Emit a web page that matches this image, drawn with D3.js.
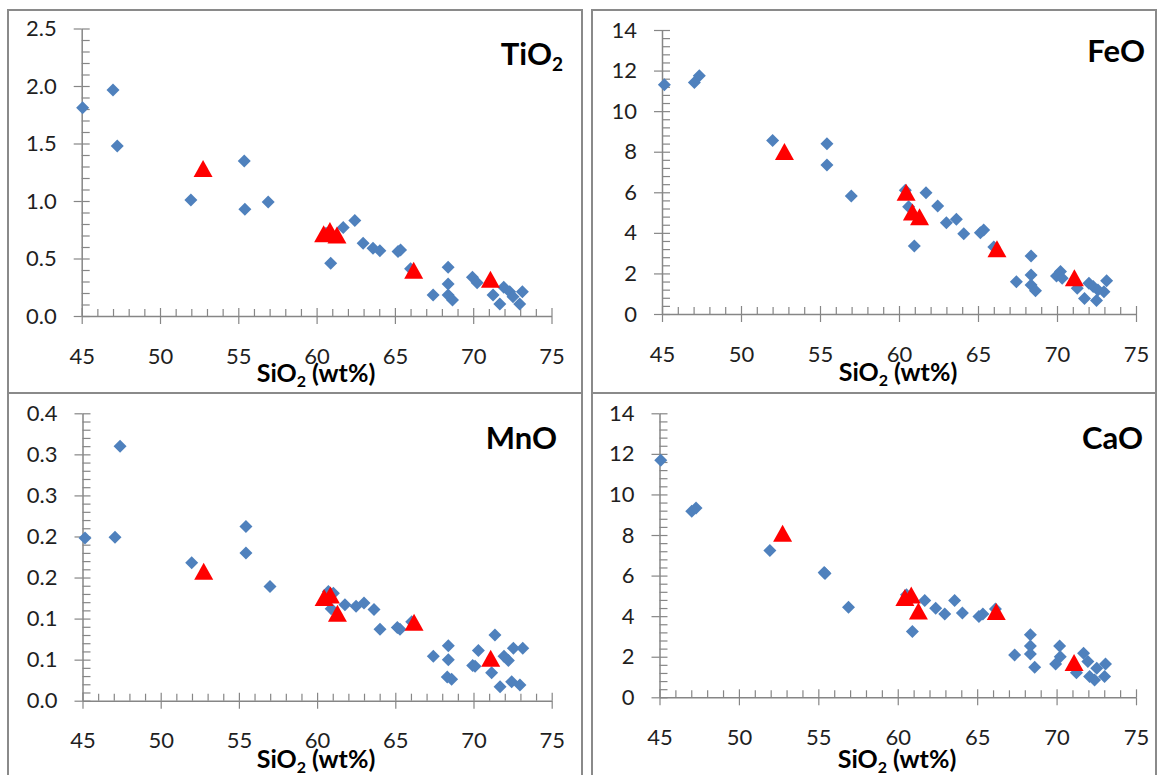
<!DOCTYPE html>
<html>
<head>
<meta charset="utf-8">
<script src="https://cdn.jsdelivr.net/npm/d3@7"></script>
<style>
  html, body { margin: 0; padding: 0; background: #fff; }
  svg { display: block; }
  text { font-family: Lato, "Open Sans", sans-serif; }
</style>
</head>
<body>
<svg id="chart" width="1158" height="775"></svg>
<script>
// ---------------- DATA ----------------
const xTicks = [45, 50, 55, 60, 65, 70, 75];
const xTickLabels = ["45", "50", "55", "60", "65", "70", "75"];

const tio2Ticks = [0, 0.5, 1.0, 1.5, 2.0, 2.5];
const tio2TickLabels = ["0.0", "0.5", "1.0", "1.5", "2.0", "2.5"];
const feoTicks = [0, 2, 4, 6, 8, 10, 12, 14];
const feoTickLabels = ["0", "2", "4", "6", "8", "10", "12", "14"];
const mnoTicks = [0, 0.05, 0.10, 0.15, 0.20, 0.25, 0.30, 0.35];
const mnoTickLabels = ["0.0", "0.1", "0.1", "0.2", "0.2", "0.3", "0.3", "0.4"];
const caoTicks = [0, 2, 4, 6, 8, 10, 12, 14];
const caoTickLabels = ["0", "2", "4", "6", "8", "10", "12", "14"];

// red triangles (shared SiO2)
const triSiO2 = [52.75, 60.45, 60.85, 61.3, 66.2, 71.1];
const triTiO2 = [1.278, 0.71, 0.74, 0.70, 0.394, 0.316];
const triFeO  = [7.98, 5.98, 5.0, 4.77, 3.19, 1.76];
const triMnO  = [0.157, 0.125, 0.128, 0.106, 0.095, 0.051];
const triCaO  = [8.06, 4.89, 5.02, 4.23, 4.2, 1.69];

// blue diamonds [SiO2, oxide]
const tio2Blue = [
  [45.06,1.81],[47.0,1.965],[47.27,1.478],[51.97,1.009],[55.38,1.348],[55.42,0.928],[56.91,0.991],
  [60.6,0.72],[60.9,0.458],[61.7,0.77],[62.44,0.83],[62.97,0.632],[63.6,0.589],[64.04,0.568],
  [65.2,0.56],[65.36,0.574],[66.0,0.41],
  [67.44,0.183],[68.4,0.423],[68.4,0.278],[68.4,0.183],[68.68,0.139],
  [69.95,0.336],[70.25,0.29],[71.27,0.183],[71.7,0.104],[71.95,0.25],[72.33,0.21],[72.54,0.168],
  [72.97,0.104],[73.14,0.21]
];
const feoBlue = [
  [45.15,11.3],[47.05,11.41],[47.36,11.74],[52.0,8.55],[55.44,8.39],[55.44,7.35],[56.98,5.82],
  [60.4,6.1],[60.61,5.29],[60.97,3.35],[61.71,5.98],[62.45,5.33],[63.0,4.5],[63.63,4.67],[64.1,3.95],
  [65.15,4.01],[65.36,4.14],[66.0,3.3],
  [67.43,1.59],[68.36,2.86],[68.36,1.92],[68.36,1.43],[68.64,1.15],
  [69.97,1.87],[70.22,2.09],[70.33,1.76],[71.28,1.27],[71.74,0.77],[72.02,1.51],[72.29,1.35],
  [72.5,0.66],[72.59,1.18],[72.97,1.1],[73.14,1.64]
];
const mnoBlue = [
  [45.16,0.198],[47.08,0.199],[47.4,0.310],[51.98,0.168],[55.45,0.212],[55.45,0.180],[56.99,0.139],
  [60.72,0.133],[61.04,0.131],[60.9,0.112],[61.78,0.117],[62.49,0.115],[63.0,0.119],[63.64,0.111],
  [64.02,0.087],[65.13,0.089],[65.3,0.087],[66.05,0.096],
  [67.43,0.054],[68.39,0.067],[68.39,0.050],[68.32,0.029],[68.6,0.026],
  [69.95,0.043],[70.1,0.042],[70.31,0.061],[71.37,0.080],[71.16,0.034],[71.7,0.017],[71.95,0.054],
  [72.23,0.049],[72.55,0.064],[72.44,0.023],[73.15,0.064],[72.97,0.019]
];
const caoBlue = [
  [45.08,11.68],[47.03,9.17],[47.3,9.33],[51.95,7.24],[55.37,6.15],[55.42,6.1],[56.9,4.44],
  [60.55,5.05],[60.92,3.24],[61.7,4.77],[62.39,4.39],[62.96,4.11],[63.58,4.77],[64.07,4.15],
  [65.11,3.98],[65.36,4.11],[66.15,4.35],
  [67.36,2.09],[68.35,3.08],[68.35,2.53],[68.35,2.14],[68.62,1.48],
  [69.94,1.64],[70.19,2.53],[70.23,2.0],[71.25,1.21],[71.7,2.17],[71.97,1.76],[72.08,1.02],
  [72.39,0.85],[72.53,1.43],[73.02,1.02],[73.08,1.64]
];

// ---------------- LAYOUT ----------------
const panels = [
  { name: "TiO", sub: "2", blue: tio2Blue, tri: triTiO2, yTicks: tio2Ticks, yLabels: tio2TickLabels, yMinor: 0.1,
    box: [8, 10, 582, 393], xr: [81.7, 551.5], yr: [316, 28.5], titleX: 563, titleY: 65, xtX: 316, xtY: 382 },
  { name: "FeO", sub: "", blue: feoBlue, tri: triFeO, yTicks: feoTicks, yLabels: feoTickLabels, yMinor: 0.4,
    box: [592, 10, 1156, 393], xr: [662, 1136], yr: [314, 30], titleX: 1145, titleY: 62, xtX: 898, xtY: 381 },
  { name: "MnO", sub: "", blue: mnoBlue, tri: triMnO, yTicks: mnoTicks, yLabels: mnoTickLabels, yMinor: 0.01,
    box: [8, 393, 582, 778], xr: [82.5, 551.7], yr: [700.7, 413.3], titleX: 557, titleY: 449, xtX: 316, xtY: 768 },
  { name: "CaO", sub: "", blue: caoBlue, tri: triCaO, yTicks: caoTicks, yLabels: caoTickLabels, yMinor: 0.4,
    box: [592, 393, 1156, 778], xr: [659.5, 1136], yr: [697.3, 413.3], titleX: 1143, titleY: 449, xtX: 897, xtY: 768 }
];

const svg = d3.select("#chart");
const axisColor = "#868686";
const borderColor = "#8a8a8a";
const blue = "#4F81BD";
const red = "#FF0000";

const diamond = "M0,-6.5L6.5,0L0,6.5L-6.5,0Z";
const triangle = "M0,-9L9.5,8L-9.5,8Z";

panels.forEach(p => {
  const g = svg.append("g");
  g.append("rect")
    .attr("x", p.box[0]).attr("y", p.box[1])
    .attr("width", p.box[2] - p.box[0]).attr("height", p.box[3] - p.box[1])
    .attr("fill", "none").attr("stroke", borderColor).attr("stroke-width", 2);

  const x = d3.scaleLinear().domain([45, 75]).range(p.xr);
  const yMax = p.yTicks[p.yTicks.length - 1];
  const y = d3.scaleLinear().domain([0, yMax]).range(p.yr);
  const x0 = p.xr[0], y0 = p.yr[0];

  const xMinor = d3.range(45, 75.0001, 1).filter(v => xTicks.indexOf(v) < 0);
  g.append("g").attr("transform", `translate(0,${y0})`)
    .call(d3.axisBottom(x).tickValues(xMinor).tickSize(-7).tickFormat(""))
    .call(a => a.select(".domain").remove());
  g.append("g").attr("transform", `translate(0,${y0})`)
    .call(d3.axisBottom(x).tickValues(xTicks).tickSize(-8).tickFormat(""))
    .call(a => a.select(".domain").remove());
  g.append("g").attr("transform", `translate(0,${y0})`)
    .call(d3.axisBottom(x).tickValues(xTicks).tickSize(8).tickSizeOuter(0).tickPadding(24)
      .tickFormat((d, i) => xTickLabels[i]));

  const yMinorVals = d3.range(0, yMax + 1e-9, p.yMinor)
    .filter(v => !p.yTicks.some(t => Math.abs(t - v) < 1e-9));
  g.append("g").attr("transform", `translate(${x0},0)`)
    .call(d3.axisLeft(y).tickValues(yMinorVals).tickSize(-8).tickFormat(""))
    .call(a => a.select(".domain").remove());
  g.append("g").attr("transform", `translate(${x0},0)`)
    .call(d3.axisLeft(y).tickValues(p.yTicks).tickSize(-8).tickFormat(""))
    .call(a => a.select(".domain").remove());
  g.append("g").attr("transform", `translate(${x0},0)`)
    .call(d3.axisLeft(y).tickValues(p.yTicks).tickSize(8).tickSizeOuter(0).tickPadding(17)
      .tickFormat((d, i) => p.yLabels[i]));

  g.selectAll(".domain").attr("stroke", axisColor).attr("stroke-width", 1.5);
  g.selectAll(".tick line").attr("stroke", axisColor).attr("stroke-width", 1.2);
  g.selectAll(".tick text").attr("font-size", 22).attr("fill", "#1f1f1f")
    .attr("font-family", "Lato, 'Open Sans', sans-serif");

  g.append("g").selectAll("path").data(p.blue).join("path")
    .attr("d", diamond)
    .attr("transform", d => `translate(${x(d[0])},${y(d[1])})`)
    .attr("fill", blue);

  g.append("g").selectAll("path").data(triSiO2.map((s, i) => [s, p.tri[i]])).join("path")
    .attr("d", triangle)
    .attr("transform", d => `translate(${x(d[0])},${y(d[1])})`)
    .attr("fill", red);

  const t = g.append("text")
    .attr("x", p.titleX).attr("y", p.titleY)
    .attr("text-anchor", "end")
    .attr("font-size", 31).attr("font-weight", "bold").attr("fill", "#000");
  t.append("tspan").text(p.name);
  if (p.sub) t.append("tspan").attr("font-size", 19).attr("dy", 6).text(p.sub);

  const xt = g.append("text")
    .attr("x", p.xtX).attr("y", p.xtY)
    .attr("text-anchor", "middle")
    .attr("font-size", 25).attr("font-weight", "bold").attr("fill", "#000");
  xt.append("tspan").text("SiO");
  xt.append("tspan").attr("font-size", 16).attr("dy", 5).text("2");
  xt.append("tspan").attr("dy", -5).text(" (wt%)");
});
</script>
</body>
</html>
